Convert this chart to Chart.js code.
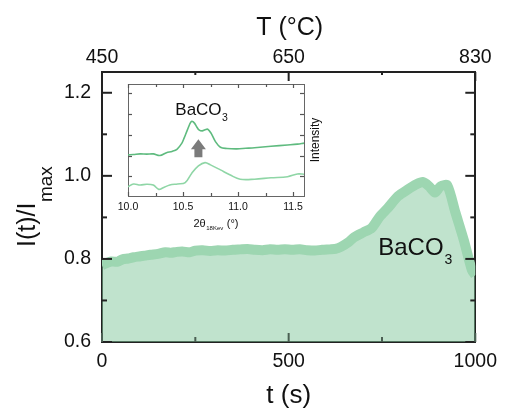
<!DOCTYPE html>
<html><head><meta charset="utf-8">
<script src="https://cdn.jsdelivr.net/npm/chart.js@4"></script>
<style>
html,body{margin:0;padding:0;background:#fff;}
#wrap{position:relative;width:505px;height:410px;overflow:hidden;}
#main{position:absolute;left:0;top:0;}
#inset{position:absolute;left:110px;top:78px;}
</style></head><body>
<div id="wrap">
<canvas id="main" width="505" height="410"></canvas>
<canvas id="inset" width="225" height="162"></canvas>
</div>
<script>
// ---------- main chart data ----------
const times = [0,12,25,40,55,70,85,100,115,130,150,170,185,200,215,235,250,270,290,310,330,350,370,390,410,430,450,470,490,510,530,550,570,590,610,625,640,660,675,700,722,744,766,793,819,841,859,876,892,907,925,947,969,991,1000];
const intensity = [0.785,0.790,0.794,0.793,0.799,0.801,0.804,0.806,0.808,0.810,0.812,0.816,0.815,0.817,0.818,0.816,0.820,0.821,0.819,0.821,0.820,0.822,0.823,0.824,0.822,0.821,0.823,0.822,0.823,0.822,0.823,0.821,0.820,0.822,0.823,0.824,0.829,0.840,0.852,0.864,0.874,0.902,0.923,0.951,0.967,0.979,0.985,0.975,0.960,0.975,0.977,0.911,0.846,0.773,0.761];
const yTickValues = [0.6, 0.8, 1.0, 1.2];
const yMinorTicks = [0.7, 0.9, 1.1];
const xTickValues = [0, 500, 1000];
const xMinorTicks = [250, 750];
const topTickLabels = ['450', '650', '830'];
const mainLabel = {text: 'BaCO', sub: '3', t: 740, v: 0.81};

// ---------- inset data ----------
const upperTheta = [10.00,10.05,10.11,10.17,10.23,10.29,10.35,10.40,10.445,10.49,10.51,10.54,10.575,10.60,10.625,10.645,10.675,10.70,10.725,10.755,10.795,10.84,10.90,10.99,11.07,11.15,11.30,11.45,11.54,11.60];
const upperCounts = [2.03,2.05,2.08,2.07,2.08,2.00,2.14,2.20,2.30,2.60,2.84,3.24,3.64,3.59,3.38,3.24,3.19,3.24,3.27,3.08,2.67,2.40,2.34,2.32,2.35,2.38,2.45,2.51,2.55,2.60];
const lowerTheta = [10.00,10.05,10.11,10.17,10.23,10.28,10.32,10.38,10.45,10.52,10.58,10.64,10.70,10.75,10.84,10.93,11.02,11.15,11.30,11.45,11.54,11.60];
const lowerCounts = [0.50,0.63,0.58,0.62,0.58,0.37,0.45,0.58,0.63,0.69,1.15,1.50,1.66,1.55,1.31,1.06,0.86,0.86,0.93,0.98,1.11,1.10];
const insetXTicks = [10.0, 10.5, 11.0, 11.5];
const insetXMinor = [10.25, 10.75, 11.25];
const insetYTicks = [1, 2, 3, 4, 5];
const insetArrow = {x: 10.64, tip: 2.79, base: 1.92};
const insetLabel = {text: 'BaCO', sub: '3', x: 10.43, y: 3.96};

const FONT = 'Liberation Sans, Arial, Helvetica, sans-serif';
const INK = '#111';

function seg(ctx, x1, y1, x2, y2) { ctx.beginPath(); ctx.moveTo(x1, y1); ctx.lineTo(x2, y2); ctx.stroke(); }

const mainTicks = {
  id: 'mainTicks',
  afterDatasetsDraw(chart) {
    const {ctx, chartArea: a, scales} = chart;
    ctx.save();
    ctx.strokeStyle = '#222'; ctx.lineWidth = 2;
    yTickValues.forEach(v => { const p = scales.y.getPixelForValue(v); seg(ctx, a.left, p, a.left + 10, p); seg(ctx, a.right, p, a.right - 10, p); });
    yMinorTicks.forEach(v => { const p = scales.y.getPixelForValue(v); seg(ctx, a.left, p, a.left + 5, p); seg(ctx, a.right, p, a.right - 5, p); });
    ctx.strokeStyle = '#4a5f52';
    xTickValues.forEach(v => { const p = scales.x.getPixelForValue(v); seg(ctx, p, a.bottom, p, a.bottom - 9); });
    xMinorTicks.forEach(v => { const p = scales.x.getPixelForValue(v); seg(ctx, p, a.bottom, p, a.bottom - 5); });
    ctx.strokeStyle = '#222';
    xTickValues.forEach(v => { const p = scales.x.getPixelForValue(v); seg(ctx, p, a.top, p, a.top + 9); });
    xMinorTicks.forEach(v => { const p = scales.x.getPixelForValue(v); seg(ctx, p, a.top, p, a.top + 3); });
    ctx.restore();
  },
  afterDraw(chart) {
    const {ctx, chartArea: a, scales} = chart;
    const cx = (a.left + a.right) / 2;
    ctx.save();
    ctx.fillStyle = INK;
    ctx.textBaseline = 'alphabetic';
    ctx.textAlign = 'center';
    ctx.font = '25px ' + FONT;
    ctx.fillText('T (°C)', cx + 1, 35);
    ctx.font = '26px ' + FONT;
    ctx.fillText('t (s)', cx, 403);
    ctx.save();
    ctx.translate(34.5, 247);
    ctx.rotate(-Math.PI / 2);
    ctx.textAlign = 'left';
    ctx.font = '25px ' + FONT;
    const main = 'I(t)/I';
    ctx.fillText(main, 0, 0);
    const w = ctx.measureText(main).width;
    ctx.font = '19px ' + FONT;
    ctx.fillText('max', w + 0.5, 17);
    ctx.restore();
    const lx = scales.x.getPixelForValue(mainLabel.t);
    const ly = scales.y.getPixelForValue(mainLabel.v);
    ctx.textAlign = 'left';
    ctx.font = '24px ' + FONT;
    ctx.fillText(mainLabel.text, lx, ly);
    const lw = ctx.measureText(mainLabel.text).width;
    ctx.font = '14px ' + FONT;
    ctx.fillText(mainLabel.sub, lx + lw + 1, ly + 9);
    ctx.restore();
  }
};

new Chart(document.getElementById('main'), {
  type: 'line',
  data: {
    datasets: [{
      data: times.map((t, i) => ({x: t, y: intensity[i]})),
      borderColor: '#9dd6b1',
      backgroundColor: 'rgba(130,200,155,0.5)',
      borderWidth: 10,
      borderJoinStyle: 'round',
      borderCapStyle: 'butt',
      pointRadius: 0,
      tension: 0.25,
      fill: 'start',
      clip: 0
    }]
  },
  options: {
    responsive: false, animation: false, devicePixelRatio: 1,
    layout: {padding: 0},
    plugins: {legend: {display: false}, tooltip: {enabled: false}},
    scales: {
      x: {
        type: 'linear', position: 'bottom', min: 0, max: 1000,
        afterBuildTicks: s => { s.ticks = xTickValues.map(v => ({value: v})); },
        ticks: {font: {family: FONT, size: 19.5}, color: INK, padding: 8, maxRotation: 0, autoSkip: false, callback: v => String(v)},
        grid: {display: false, drawTicks: false},
        border: {display: true, color: '#222', width: 2},
        afterFit: s => { s.height = 68; }
      },
      xTop: {
        type: 'linear', position: 'top', min: 0, max: 1000,
        afterBuildTicks: s => { s.ticks = xTickValues.map(v => ({value: v})); },
        ticks: {font: {family: FONT, size: 19.5}, color: INK, padding: 3, maxRotation: 0, autoSkip: false, callback: (v, i) => topTickLabels[i]},
        grid: {display: false, drawTicks: false},
        border: {display: true, color: '#222', width: 2},
        afterFit: s => { s.height = 72; }
      },
      y: {
        type: 'linear', position: 'left', min: 0.6, max: 1.25,
        afterBuildTicks: s => { s.ticks = yTickValues.map(v => ({value: v})); },
        ticks: {font: {family: FONT, size: 19.5}, color: INK, padding: 11, callback: v => v.toFixed(1)},
        grid: {display: false, drawTicks: false},
        border: {display: true, color: '#222', width: 2},
        afterFit: s => { s.width = 102; }
      },
      y2: {
        type: 'linear', position: 'right', min: 0.6, max: 1.25,
        ticks: {display: false},
        grid: {display: false, drawTicks: false},
        border: {display: true, color: '#222', width: 2},
        afterFit: s => { s.width = 25; }
      }
    }
  },
  plugins: [mainTicks]
});

// ---------- inset ----------
const insetDecor = {
  id: 'insetDecor',
  afterDatasetsDraw(chart) {
    const {ctx, chartArea: a, scales} = chart;
    const sx = scales.x, sy = scales.y;
    ctx.save();
    ctx.strokeStyle = '#555'; ctx.lineWidth = 1.2;
    insetXTicks.forEach(v => { const p = Math.round(sx.getPixelForValue(v)) + 0.5; seg(ctx, p, a.bottom, p, a.bottom - 4); seg(ctx, p, a.top, p, a.top + 4); });
    insetXMinor.forEach(v => { const p = Math.round(sx.getPixelForValue(v)) + 0.5; seg(ctx, p, a.bottom, p, a.bottom - 3); seg(ctx, p, a.top, p, a.top + 3); });
    insetYTicks.forEach(v => { const p = Math.round(sy.getPixelForValue(v)) + 0.5; seg(ctx, a.left, p, a.left + 4, p); seg(ctx, a.right, p, a.right - 4, p); });
    const ax = sx.getPixelForValue(insetArrow.x);
    const tipY = sy.getPixelForValue(insetArrow.tip);
    const baseY = sy.getPixelForValue(insetArrow.base);
    const headH = 10, headW = 7.5, shaftW = 4;
    ctx.fillStyle = '#7b7b7b';
    ctx.beginPath();
    ctx.moveTo(ax, tipY);
    ctx.lineTo(ax + headW, tipY + headH);
    ctx.lineTo(ax + shaftW, tipY + headH);
    ctx.lineTo(ax + shaftW, baseY);
    ctx.lineTo(ax - shaftW, baseY);
    ctx.lineTo(ax - shaftW, tipY + headH);
    ctx.lineTo(ax - headW, tipY + headH);
    ctx.closePath();
    ctx.fill();
    ctx.fillStyle = INK;
    ctx.textBaseline = 'alphabetic';
    ctx.textAlign = 'left';
    const lx = sx.getPixelForValue(insetLabel.x), ly = sy.getPixelForValue(insetLabel.y);
    ctx.font = '17px ' + FONT;
    ctx.fillText(insetLabel.text, lx, ly);
    const lw = ctx.measureText(insetLabel.text).width;
    ctx.font = '10.5px ' + FONT;
    ctx.fillText(insetLabel.sub, lx + lw + 0.5, ly + 6);
    const cx = (a.left + a.right) / 2;
    const p1 = '2θ', p2 = '18Kev', p3 = ' (°)';
    ctx.font = '11px ' + FONT; const w1 = ctx.measureText(p1).width, w3 = ctx.measureText(p3).width;
    ctx.font = '6px ' + FONT; const w2 = ctx.measureText(p2).width;
    let x0 = cx - (w1 + w2 + w3 + 1) / 2;
    const by = a.bottom + 30.7;
    ctx.font = '11px ' + FONT; ctx.fillText(p1, x0, by);
    ctx.font = '6px ' + FONT; ctx.fillText(p2, x0 + w1 + 0.5, by + 3);
    ctx.font = '11px ' + FONT; ctx.fillText(p3, x0 + w1 + w2 + 1, by);
    ctx.save();
    ctx.translate(a.right + 15, (a.top + a.bottom) / 2);
    ctx.rotate(-Math.PI / 2);
    ctx.textAlign = 'center';
    ctx.font = '12px ' + FONT;
    ctx.fillText('Intensity', 0, 0);
    ctx.restore();
    ctx.restore();
  }
};

new Chart(document.getElementById('inset'), {
  type: 'line',
  data: {
    datasets: [
      {data: upperTheta.map((t, i) => ({x: t, y: upperCounts[i]})), borderColor: '#5fbb7f', borderWidth: 1.6, pointRadius: 0, tension: 0.35, fill: false},
      {data: lowerTheta.map((t, i) => ({x: t, y: lowerCounts[i]})), borderColor: '#8fd6a6', borderWidth: 1.6, pointRadius: 0, tension: 0.35, fill: false}
    ]
  },
  options: {
    responsive: false, animation: false, devicePixelRatio: 1,
    layout: {padding: {top: 6, left: 0, right: 0, bottom: 0}},
    plugins: {legend: {display: false}, tooltip: {enabled: false}},
    scales: {
      x: {
        type: 'linear', position: 'bottom', min: 10.0, max: 11.6,
        afterBuildTicks: s => { s.ticks = insetXTicks.map(v => ({value: v})); },
        ticks: {font: {family: FONT, size: 10.5}, color: INK, padding: 5, maxRotation: 0, autoSkip: false, callback: v => v.toFixed(1)},
        grid: {display: false, drawTicks: false},
        border: {display: true, color: '#666', width: 1},
        afterFit: s => { s.height = 44; }
      },
      xTop: {
        type: 'linear', position: 'top', min: 10.0, max: 11.6,
        ticks: {display: false},
        grid: {display: false, drawTicks: false},
        border: {display: true, color: '#666', width: 1},
        afterFit: s => { s.height = 0; }
      },
      y: {
        type: 'linear', position: 'left', min: 0.05, max: 5.45,
        ticks: {display: false},
        grid: {display: false, drawTicks: false},
        border: {display: true, color: '#666', width: 1},
        afterFit: s => { s.width = 18; }
      },
      y2: {
        type: 'linear', position: 'right', min: 0.05, max: 5.45,
        ticks: {display: false},
        grid: {display: false, drawTicks: false},
        border: {display: true, color: '#666', width: 1},
        afterFit: s => { s.width = 31; }
      }
    }
  },
  plugins: [insetDecor]
});
</script>
</body></html>
